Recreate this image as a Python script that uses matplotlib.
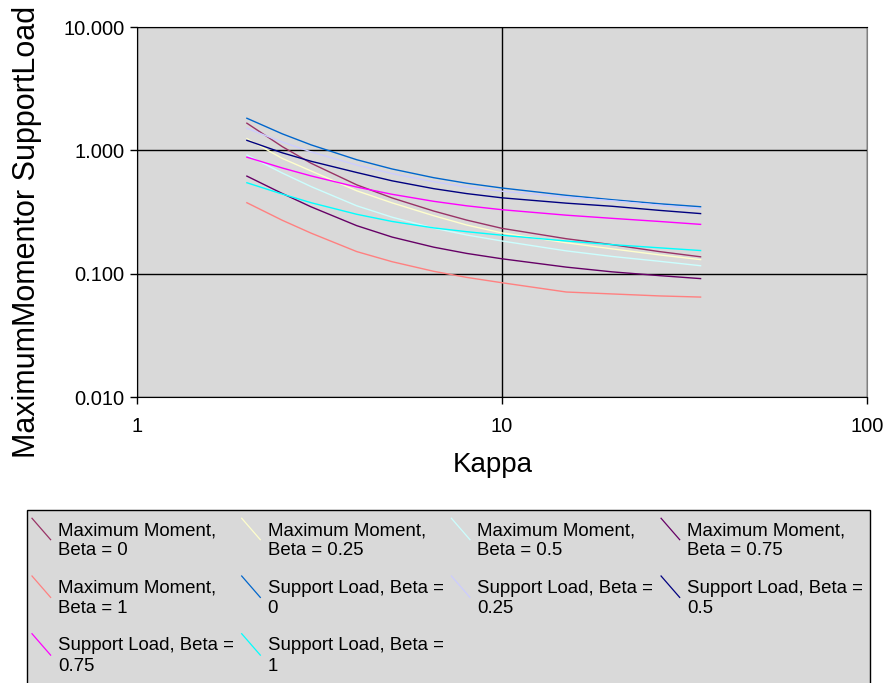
import matplotlib
matplotlib.use("Agg")
import matplotlib.pyplot as plt
from matplotlib.lines import Line2D
from matplotlib.patches import Rectangle
from matplotlib.legend_handler import HandlerBase
from matplotlib.ticker import FuncFormatter, NullLocator, FixedLocator

plt.rcParams['font.family'] = ['Liberation Sans', 'DejaVu Sans']

# kappa values (log scale)
kappa = [2, 2.5, 3, 4, 5, 6.5, 8, 10, 15, 20, 27, 35]

# maximum moment curves
mm_b0 = [1.66, 1.072, 0.785, 0.525, 0.411, 0.322, 0.272, 0.233, 0.192, 0.172, 0.151, 0.137]
mm_b025 = [1.245, 0.86, 0.68, 0.47, 0.375, 0.295, 0.248, 0.214, 0.178, 0.159, 0.142, 0.130]
mm_b05 = [0.916, 0.655, 0.508, 0.355, 0.287, 0.234, 0.206, 0.184, 0.153, 0.138, 0.126, 0.116]
mm_b075 = [0.618, 0.447, 0.348, 0.245, 0.198, 0.164, 0.146, 0.132, 0.113, 0.1035, 0.0964, 0.0912]
mm_b1 = [0.376, 0.271, 0.213, 0.151, 0.125, 0.1045, 0.0933, 0.0844, 0.071, 0.0685, 0.066, 0.0646]

# support load curves
sl_b0 = [1.82, 1.361, 1.107, 0.839, 0.706, 0.600, 0.541, 0.495, 0.432, 0.398, 0.369, 0.349]
sl_b025 = [1.51, 1.167, 0.971, 0.760, 0.648, 0.557, 0.505, 0.466, 0.417, 0.390, 0.358, 0.336]
sl_b05 = [1.205, 0.955, 0.815, 0.661, 0.566, 0.489, 0.446, 0.412, 0.373, 0.352, 0.326, 0.307]
sl_b075 = [0.88, 0.719, 0.620, 0.504, 0.440, 0.386, 0.355, 0.330, 0.298, 0.281, 0.265, 0.251]
sl_b1 = [0.546, 0.442, 0.376, 0.303, 0.265, 0.235, 0.219, 0.205, 0.184, 0.172, 0.162, 0.154]

series = [
    ("Maximum Moment,\nBeta = 0", mm_b0, "#993366"),
    ("Maximum Moment,\nBeta = 0.25", mm_b025, "#FFFFCC"),
    ("Maximum Moment,\nBeta = 0.5", mm_b05, "#CCFFFF"),
    ("Maximum Moment,\nBeta = 0.75", mm_b075, "#660066"),
    ("Maximum Moment,\nBeta = 1", mm_b1, "#FF8080"),
    ("Support Load, Beta =\n0", sl_b0, "#0066CC"),
    ("Support Load, Beta =\n0.25", sl_b025, "#CCCCFF"),
    ("Support Load, Beta =\n0.5", sl_b05, "#000080"),
    ("Support Load, Beta =\n0.75", sl_b075, "#FF00FF"),
    ("Support Load, Beta =\n1", sl_b1, "#00FFFF"),
]


class DiagHandler(HandlerBase):
    # diagonal legend key next to the first text line
    def create_artists(self, legend, orig_handle, xdescent, ydescent,
                       width, height, fontsize, trans):
        x0 = -xdescent
        line = Line2D([x0, x0 + width], [1.55 * fontsize, 0.4 * fontsize],
                      color=orig_handle.get_color(), lw=0.9)
        line.set_transform(trans)
        return [line]


fig = plt.figure(figsize=(8.88, 6.83), dpi=100)
W, H = 888, 683
ax = fig.add_axes([137 / W, 1 - 397 / H, (867 - 137) / W, (397 - 27) / H])
ax.set_facecolor("#d9d9d9")

lines = []
for label, vals, col in series:
    ln, = ax.plot(kappa, vals, color=col, lw=1.0, label=label)
    lines.append(ln)

ax.set_xscale("log")
ax.set_yscale("log")
ax.set_xlim(1, 100)
ax.set_ylim(0.01, 10)
ax.xaxis.set_major_locator(FixedLocator([1, 10, 100]))
ax.yaxis.set_major_locator(FixedLocator([0.01, 0.1, 1, 10]))
ax.xaxis.set_minor_locator(NullLocator())
ax.yaxis.set_minor_locator(NullLocator())
ax.xaxis.set_major_formatter(FuncFormatter(lambda v, p: "%g" % v))
ax.yaxis.set_major_formatter(FuncFormatter(lambda v, p: "%.3f" % v))
ax.grid(True, color="black", lw=1.0)
ax.set_axisbelow(True)
ax.tick_params(direction="out", length=5, width=1, labelsize=14.5)
ax.tick_params(axis="x", pad=9.5)
ax.tick_params(axis="y", pad=4)
for s in ["left", "bottom", "top"]:
    ax.spines[s].set_color("black")
ax.spines["right"].set_color("#808080")

fig.text(493 / W, 1 - 465 / H, "Kappa", fontsize=20, ha="center", va="center")
fig.text(27 / W, 1 - 232 / H, "MaximumMomentor SupportLoad", fontsize=22,
         rotation=90, ha="center", va="center")

# legend box runs off the bottom of the image in the original
fig.patches.append(Rectangle((27 / W, -0.02), 843 / W, 1 - 510 / H + 0.02,
                             transform=fig.transFigure, facecolor="#d9d9d9",
                             edgecolor="black", lw=1.0, zorder=0))

# legend is filled row by row in the original
order = [0, 4, 8, 1, 5, 9, 2, 6, 3, 7]
hs = [lines[i] for i in order]
ls = [series[i][0] for i in order]
leg = fig.legend(hs, ls, ncol=4, loc="upper left",
                 bbox_to_anchor=(32 / W, 1 - 522 / H, (863 - 32) / W, 0),
                 mode="expand", borderaxespad=0, borderpad=0, fontsize=13.4,
                 handler_map={Line2D: DiagHandler()},
                 handlelength=1.0, handletextpad=0.4, labelspacing=1.1,
                 frameon=False)
for t in leg.get_texts():
    t.set_linespacing(1.25)

fig.savefig("out.png", dpi=100)
